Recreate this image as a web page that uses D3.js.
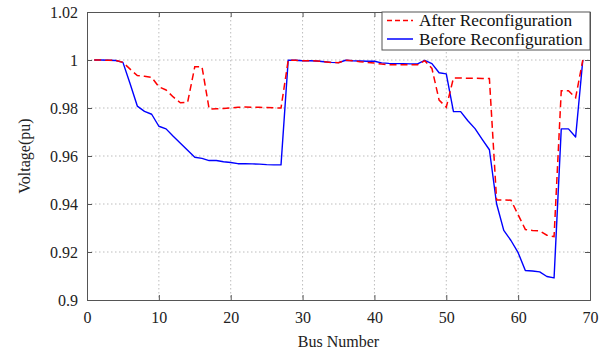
<!DOCTYPE html>
<html>
<head>
<meta charset="utf-8">
<script src="https://cdn.jsdelivr.net/npm/d3@7"></script>
<style>
  html, body { margin: 0; padding: 0; background: #fff; }
  svg { display: block; }
  text { font-family: "Liberation Serif", "DejaVu Serif", serif; }
</style>
</head>
<body>
<svg id="chart" width="611" height="351"></svg>
<script>
// ---- data ----
const busNumbers = d3.range(1, 70);

const beforeReconfiguration = [
  1.0000, 1.0000, 0.9999, 0.9998, 0.9990, 0.9901, 0.9808, 0.9786, 0.9774, 0.9724,
  0.9713, 0.9682, 0.9653, 0.9624, 0.9595, 0.9590, 0.9581, 0.9581, 0.9576, 0.9573,
  0.9568, 0.9568, 0.9567, 0.9566, 0.9564, 0.9563, 0.9563, 0.9999, 0.9999, 0.9997,
  0.9997, 0.9996, 0.9993, 0.9990, 0.9989, 0.9999, 0.9997, 0.9996, 0.9995, 0.9995,
  0.9988, 0.9986, 0.9985, 0.9985, 0.9984, 0.9984, 0.9998, 0.9985, 0.9947, 0.9942,
  0.9785, 0.9785, 0.9747, 0.9714, 0.9669, 0.9626, 0.9401, 0.9290, 0.9248, 0.9197,
  0.9123, 0.9121, 0.9117, 0.9098, 0.9092, 0.9713, 0.9713, 0.9679, 1.0000
];

const afterReconfiguration = [
  1.0000, 1.0000, 0.9999, 0.9998, 0.9990, 0.9962, 0.9935, 0.9932, 0.9928, 0.9888,
  0.9875, 0.9846, 0.9822, 0.9823, 0.9972, 0.9972, 0.9796, 0.9797, 0.9798, 0.9800,
  0.9803, 0.9804, 0.9803, 0.9803, 0.9802, 0.9801, 0.9800, 0.9999, 0.9999, 0.9997,
  0.9997, 0.9996, 0.9993, 0.9990, 0.9989, 0.9999, 0.9997, 0.9993, 0.9990, 0.9987,
  0.9983, 0.9980, 0.9980, 0.9980, 0.9980, 0.9980, 0.9997, 0.9965, 0.9833, 0.9803,
  0.9925, 0.9925, 0.9924, 0.9924, 0.9923, 0.9923, 0.9417, 0.9417, 0.9416, 0.9355,
  0.9294, 0.9290, 0.9288, 0.9270, 0.9264, 0.9872, 0.9872, 0.9843, 1.0000
];

const xTicks = [0, 10, 20, 30, 40, 50, 60, 70];
const yTicks = [0.9, 0.92, 0.94, 0.96, 0.98, 1.0, 1.02];
const yTickLabels = ["0.9", "0.92", "0.94", "0.96", "0.98", "1", "1.02"];
const seriesNames = ["After Reconfiguration", "Before Reconfiguration"];

// ---- layout ----
const svg = d3.select("#chart");
const margin = { left: 87, top: 12, right: 21, bottom: 51 };
const W = 611, H = 351;
const x0 = margin.left, x1 = W - margin.right, y0 = margin.top, y1 = H - margin.bottom;

const x = d3.scaleLinear().domain([0, 70]).range([x0, x1]);
const y = d3.scaleLinear().domain([0.9, 1.02]).range([y1, y0]);

// grid
const grid = svg.append("g");
grid.selectAll("line.gx").data(xTicks.slice(1, -1)).join("line")
  .attr("x1", d => x(d)).attr("x2", d => x(d)).attr("y1", y0).attr("y2", y1)
  .attr("stroke", "#bdbdbd").attr("stroke-width", 1).attr("stroke-dasharray", "1.5,2.5");
grid.selectAll("line.gy").data(yTicks.slice(1, -1)).join("line")
  .attr("y1", d => y(d)).attr("y2", d => y(d)).attr("x1", x0).attr("x2", x1)
  .attr("stroke", "#bdbdbd").attr("stroke-width", 1).attr("stroke-dasharray", "1.5,2.5");

// lines
const line = d3.line().x((d, i) => x(busNumbers[i])).y(d => y(d));
svg.append("path").datum(beforeReconfiguration)
  .attr("d", line).attr("fill", "none").attr("stroke", "#0000ff")
  .attr("stroke-width", 1.4).attr("stroke-linejoin", "round");
svg.append("path").datum(afterReconfiguration)
  .attr("d", line).attr("fill", "none").attr("stroke", "#ff0000")
  .attr("stroke-width", 1.5).attr("stroke-dasharray", "7,4");

// axes (ticks inward)
const tickLen = 5;
const axColor = "#555";
const xb = svg.append("g").attr("transform", `translate(0,${y1})`)
  .call(d3.axisBottom(x).tickValues(xTicks).tickSize(-tickLen).tickPadding(12).tickFormat(d3.format("d")));
const xt = svg.append("g").attr("transform", `translate(0,${y0})`)
  .call(d3.axisTop(x).tickValues(xTicks).tickSize(-tickLen).tickFormat(""));
const yl = svg.append("g").attr("transform", `translate(${x0},0)`)
  .call(d3.axisLeft(y).tickValues(yTicks).tickSize(-tickLen).tickPadding(9)
    .tickFormat((d, i) => yTickLabels[i]));
const yr = svg.append("g").attr("transform", `translate(${x1},0)`)
  .call(d3.axisRight(y).tickValues(yTicks).tickSize(-tickLen).tickFormat(""));
[xb, xt, yl, yr].forEach(g => {
  g.select(".domain").attr("stroke", axColor);
  g.selectAll(".tick line").attr("stroke", axColor);
  g.selectAll(".tick text").attr("fill", "#222").style("font-size", "16px")
    .style("font-family", "'Liberation Serif', serif");
});

// axis labels
svg.append("text").attr("x", (x0 + x1) / 2).attr("y", 347).attr("text-anchor", "middle")
  .style("font-size", "16px").attr("fill", "#222").text("Bus Number");
svg.append("text").attr("transform", `translate(30,${(y0 + y1) / 2}) rotate(-90)`)
  .attr("text-anchor", "middle").style("font-size", "16px").attr("fill", "#222").text("Voltage(pu)");

// legend
const lg = svg.append("g");
lg.append("rect").attr("x", 382).attr("y", y0).attr("width", x1 - 382).attr("height", 38)
  .attr("fill", "#fff").attr("stroke", axColor).attr("stroke-width", 1);
const legendStyles = [
  { color: "#ff0000", dash: "5,3" },
  { color: "#0000ff", dash: null }
];
seriesNames.forEach((name, i) => {
  const cy = y0 + 8.5 + i * 18.5;
  lg.append("line").attr("x1", 387).attr("x2", 413).attr("y1", cy).attr("y2", cy)
    .attr("stroke", legendStyles[i].color).attr("stroke-width", 1.5)
    .attr("stroke-dasharray", legendStyles[i].dash);
  lg.append("text").attr("x", 419).attr("y", cy + 5.5).style("font-size", "17.3px")
    .attr("fill", "#111").text(name);
});
</script>
</body>
</html>
